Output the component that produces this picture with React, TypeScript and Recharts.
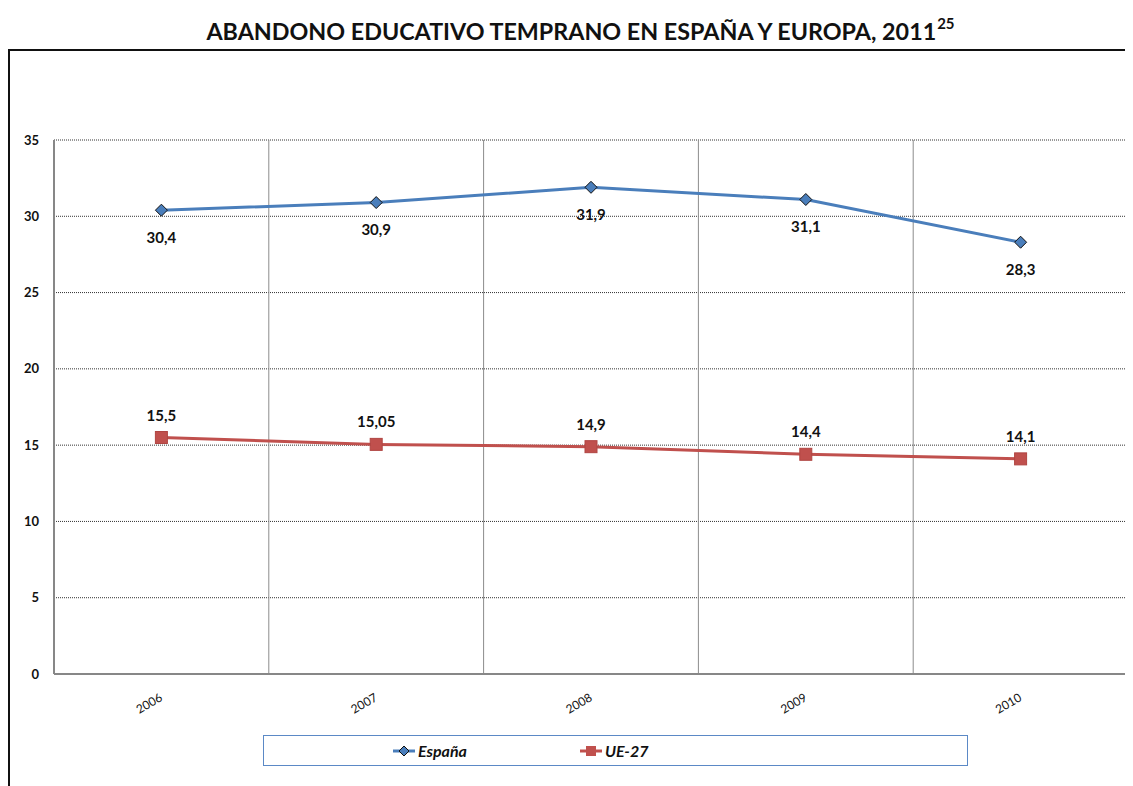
import { CartesianGrid, LabelList, Legend, Line, LineChart, ReferenceLine, XAxis, YAxis } from 'recharts'

const years = ['2006', '2007', '2008', '2009', '2010']
const espana = [30.4, 30.9, 31.9, 31.1, 28.3]
const ue27 = [15.5, 15.05, 14.9, 14.4, 14.1]
const yTicks = [0, 5, 10, 15, 20, 25, 30, 35]

const data = years.map((year, i) => ({ year, espana: espana[i], ue27: ue27[i] }))

const BLUE = '#4a7ebb'
const RED = '#c0504d'
const FONT = 'Lato, "Open Sans", sans-serif'

const fmt = (v: any) => String(v).replace('.', ',')

// vertical lines sit between the year bands
const bandEdges = ({ xAxis, offset }: any) => {
  if (typeof xAxis?.scale === 'function') return years.slice(1).map((y) => xAxis.scale(y))
  if (typeof xAxis?.scale?.map === 'function') return years.slice(1).map((y) => xAxis.scale.map(y))
  return years.slice(1).map((_, i) => offset.left + ((i + 1) * offset.width) / years.length)
}

function Diamond({ cx, cy }: any) {
  if (cx == null || cy == null) return null
  const r = 6
  return (
    <polygon
      points={`${cx},${cy - r} ${cx + r},${cy} ${cx},${cy + r} ${cx - r},${cy}`}
      fill={BLUE}
      stroke="#111"
      strokeWidth={1}
    />
  )
}

function Square({ cx, cy }: any) {
  if (cx == null || cy == null) return null
  return <rect x={cx - 6} y={cy - 6} width={12} height={12} fill={RED} stroke="#b04542" strokeWidth={1} />
}

function YearTick({ x, y, payload }: any) {
  return (
    <text
      transform={`translate(${x + 2},${y + 24}) rotate(-30)`}
      textAnchor="end"
      fontSize={12}
      fontFamily={FONT}
      fill="#111"
    >
      {payload.value}
    </text>
  )
}

function LegendBox() {
  return (
    <div
      style={{
        width: 703,
        height: 29,
        border: '1.5px solid #5b89c6',
        display: 'flex',
        alignItems: 'center',
        fontFamily: FONT,
        fontWeight: 700,
        fontStyle: 'italic',
        fontSize: 16,
        color: '#111',
      }}
    >
      <svg width={24} height={14} style={{ marginLeft: 128 }}>
        <line x1={1} y1={7} x2={23} y2={7} stroke={BLUE} strokeWidth={3} />
        <polygon points="12,2 17,7 12,12 7,7" fill={BLUE} stroke="#111" strokeWidth={1} />
      </svg>
      <span style={{ marginLeft: 2 }}>España</span>
      <svg width={24} height={14} style={{ marginLeft: 112 }}>
        <line x1={1} y1={7} x2={23} y2={7} stroke={RED} strokeWidth={3} />
        <rect x={7} y={2} width={10} height={10} fill={RED} />
      </svg>
      <span style={{ marginLeft: 2 }}>UE-27</span>
    </div>
  )
}

export default function App() {
  return (
    <div style={{ position: 'relative', width: 1125, height: 778, fontFamily: FONT }}>
      <div
        style={{
          position: 'absolute',
          top: 9,
          left: 0,
          width: 1125,
          paddingLeft: 20,
          boxSizing: 'border-box',
          textAlign: 'center',
          fontSize: 23.3,
          fontWeight: 700,
          color: '#111',
        }}
      >
        ABANDONO EDUCATIVO TEMPRANO EN ESPAÑA Y EUROPA, 2011
        <span style={{ fontSize: 15, position: 'relative', top: -11, marginLeft: 1 }}>25</span>
      </div>
      <div
        style={{
          position: 'absolute',
          top: 41,
          left: 0,
          width: 1123,
          height: 735,
          borderTop: '2px solid #111',
          borderLeft: '2px solid #111',
        }}
      >
        <LineChart width={1123} height={735} data={data} margin={{ top: 89, right: 5, left: 0, bottom: 72 }}>
          <CartesianGrid vertical={false} stroke="#333" strokeDasharray="1 1" />
          <CartesianGrid horizontal={false} stroke="#8c8c8c" verticalCoordinatesGenerator={bandEdges} />
          <XAxis
            dataKey="year"
            scale="band"
            height={40}
            axisLine={{ stroke: '#878787', strokeWidth: 2 }}
            tickLine={false}
            tickSize={0}
            tick={<YearTick />}
            interval={0}
          />
          <YAxis
            domain={[0, 35]}
            ticks={yTicks}
            width={44}
            axisLine={{ stroke: '#878787', strokeWidth: 2 }}
            tickLine={false}
            tickSize={0}
            tickMargin={15}
            tick={{ fontSize: 13, fontWeight: 700, fill: '#111', fontFamily: FONT }}
          />
          <ReferenceLine x="2010" position="end" stroke="#8da2c4" strokeWidth={1.5} />
          <Legend
            verticalAlign="middle"
            align="center"
            wrapperStyle={{ top: 684, left: 253, width: 706, height: 31 }}
            content={() => <LegendBox />}
          />
          <Line
            dataKey="espana"
            name="España"
            stroke={BLUE}
            strokeWidth={3}
            dot={<Diamond />}
            isAnimationActive={false}
          >
            <LabelList
              dataKey="espana"
              position="bottom"
              offset={22}
              formatter={fmt}
              style={{ fontSize: 15, fontWeight: 700, fill: '#111', fontFamily: FONT }}
            />
          </Line>
          <Line
            dataKey="ue27"
            name="UE-27"
            stroke={RED}
            strokeWidth={3}
            dot={<Square />}
            isAnimationActive={false}
          >
            <LabelList
              dataKey="ue27"
              position="top"
              offset={17}
              formatter={fmt}
              style={{ fontSize: 15, fontWeight: 700, fill: '#111', fontFamily: FONT }}
            />
          </Line>
        </LineChart>
      </div>
    </div>
  )
}
